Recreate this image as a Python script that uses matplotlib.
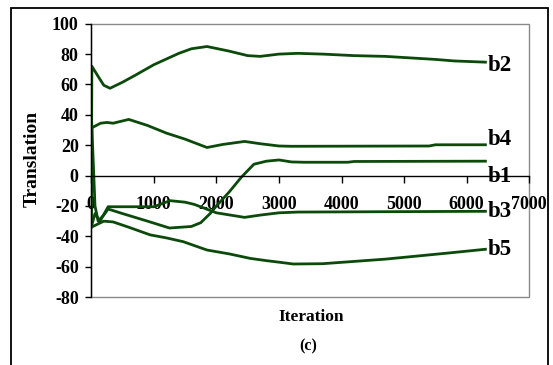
import matplotlib.pyplot as plt
from matplotlib.patches import Rectangle

plt.rcParams['font.family'] = ['Liberation Serif', 'DejaVu Serif']
plt.rcParams['font.weight'] = 'bold'
plt.rcParams['axes.unicode_minus'] = False

# iteration / translation samples for each parameter
it_b2 = [0, 10, 100, 200, 300, 500, 700, 1000, 1400, 1600, 1850, 2200, 2500, 2700,
         3000, 3300, 3700, 4200, 4700, 5100, 5500, 5800, 6300]
b2 = [-32, 72, 66, 59.5, 57.5, 61.5, 66, 73, 80.5, 83.5, 85, 82, 79, 78.5,
      80, 80.5, 80, 79, 78.5, 77.5, 76.5, 75.5, 74.7]

it_b4 = [0, 10, 150, 250, 350, 600, 900, 1200, 1500, 1850, 2100, 2450, 2700,
         3000, 3200, 5400, 5500, 6300]
b4 = [-32, 31.5, 34.5, 35, 34.5, 37, 33, 28, 24, 18.5, 20.5, 22.5, 21,
      19.5, 19.3, 19.5, 20.3, 20.3]

it_b1 = [0, 60, 110, 200, 270, 500, 900, 1250, 1600, 1750, 1900, 2000, 2200, 2400,
         2600, 2800, 3000, 3200, 3400, 4100, 4200, 6300]
b1 = [42, -20, -30, -26, -22, -25, -30, -34.5, -33.5, -31, -25, -20, -11, -1,
      7.5, 9.5, 10.3, 9, 8.8, 8.8, 9.3, 9.5]

it_b3 = [0, 60, 140, 270, 600, 1000, 1260, 1500, 1650, 2000, 2300, 2450, 2700,
         3000, 3300, 6300]
b3 = [-34, -25, -30, -20.5, -20.5, -20.5, -16.5, -17.5, -19, -24.5, -26.5, -27.5, -26,
      -24.5, -24, -23.5]

it_b5 = [0, 100, 200, 350, 600, 940, 1200, 1470, 1850, 2200, 2540, 2800, 3000,
         3230, 3700, 4200, 4700, 5200, 5700, 6300]
b5 = [-34, -32, -30, -30.5, -34, -39, -41, -43.5, -49, -51.5, -54.5, -56, -57,
      -58.2, -58, -56.5, -55, -53, -51, -48.5]

series = [(it_b2, b2), (it_b4, b4), (it_b1, b1), (it_b3, b3), (it_b5, b5)]
names = ['b2', 'b4', 'b1', 'b3', 'b5']
name_y = [69, 20.2, -4, -27, -52.3]

xticks = [0, 1000, 2000, 3000, 4000, 5000, 6000, 7000]
yticks = [-80, -60, -40, -20, 0, 20, 40, 60, 80, 100]

green = '#0c4a0c'

fig = plt.figure(figsize=(5.53, 3.65), dpi=100)
ax = fig.add_axes([0.165, 0.186, 0.792, 0.749])

for xs, ys in series:
    ax.plot(xs, ys, color=green, lw=2.0, solid_joinstyle='round')

for n, y in zip(names, name_y):
    ax.text(6337, y, n, fontsize=16.5, fontweight='bold', ha='left', va='baseline',
            clip_on=False)

ax.set_xlim(0, 7000)
ax.set_ylim(-80, 100)

ax.spines['bottom'].set_position(('data', 0))
for s in ['top', 'right']:
    ax.spines[s].set_visible(False)
ax.spines['left'].set_linewidth(1.0)
ax.spines['bottom'].set_linewidth(1.0)

# grey plot-area border
ax.add_patch(Rectangle((0, 0), 1, 1, transform=ax.transAxes, fill=False,
                       edgecolor='#8a8a8a', lw=1.0, clip_on=False, zorder=0))

ax.set_yticks(yticks)
ax.set_xticks(xticks)
ax.tick_params(axis='y', direction='out', length=4, width=1, labelsize=13, pad=5)
ax.tick_params(axis='x', direction='out', length=5, width=1, labelsize=13, pad=10)
for lab in ax.get_xticklabels() + ax.get_yticklabels():
    lab.set_fontweight('bold')

fig.text(0.059, 0.565, 'Translation', rotation=90, ha='center', va='center',
         fontsize=14, fontweight='bold')
fig.text(0.562, 0.131, 'Iteration', ha='center', va='center', fontsize=12.5,
         fontweight='bold')
fig.text(0.557, 0.05, '(c)', ha='center', va='center', fontsize=11.5,
         fontweight='bold')

# outer chart frame
fig.patches.append(Rectangle((11 / 553, -0.05), 537 / 553, 1.05 - 8 / 365,
                             transform=fig.transFigure, fill=False,
                             edgecolor='black', lw=1.3))

fig.savefig('out.png', dpi=100)
